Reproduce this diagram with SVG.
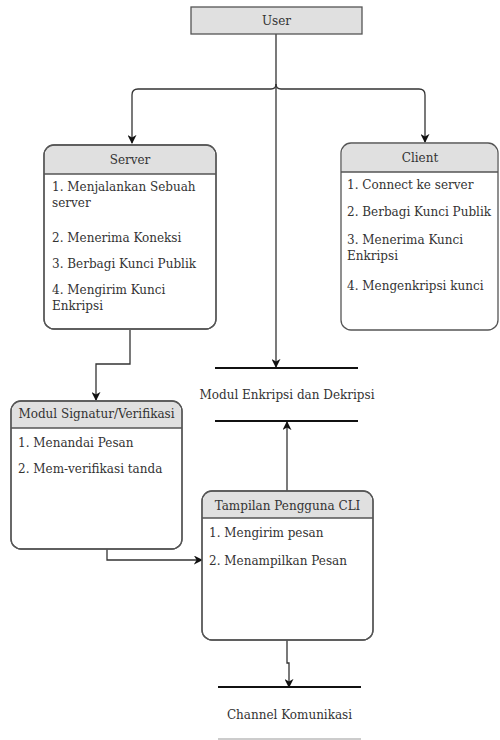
<svg xmlns="http://www.w3.org/2000/svg" width="500" height="740" viewBox="0 0 500 740">
<defs>
<style>
text{font-family:"DejaVu Serif","Liberation Serif",serif;font-size:12px;fill:#333}
.c{text-anchor:middle}
.box{fill:#fff;stroke:#555;stroke-width:1.3}
.hd{fill:#e0e0e0;stroke:none}
.hl{stroke:#555;stroke-width:1.3}
.ln{fill:none;stroke:#333;stroke-width:1.3}
.bar{stroke:#111;stroke-width:2}
</style>
<marker id="ah" viewBox="0 0 10 10" refX="9" refY="5" markerWidth="9" markerHeight="9" markerUnits="userSpaceOnUse" orient="auto">
<path d="M0,0 L10,5 L0,10 L3,5 Z" fill="#111"/>
</marker>
</defs>
<rect width="500" height="740" fill="#fff"/>

<g id="connectors">
<path class="ln" d="M276,34 V84 Q276,89 271,89 H138 Q132,89 132,95 V143" marker-end="url(#ah)"/>
<path class="ln" d="M276,84 Q276,89 281,89 H419 Q425,89 425,95 V142" marker-end="url(#ah)"/>
<path class="ln" d="M276,84 V367" marker-end="url(#ah)"/>
<path class="ln" d="M130,330 V364 H96 V400" marker-end="url(#ah)"/>
<path class="ln" d="M107,549 V560 H202" marker-end="url(#ah)"/>
<path class="ln" d="M287,491 V422" marker-end="url(#ah)"/>
<path class="ln" d="M287,640 V663 H289 V687" marker-end="url(#ah)"/>
</g>

<g id="user">
<rect x="191" y="7" width="171" height="27" fill="#e0e0e0" stroke="#555" stroke-width="1.3"/>
<text class="c" x="276.5" y="25">User</text>
</g>

<g id="server">
<rect class="box" x="44" y="145" width="172" height="184" rx="10"/>
<path class="hd" d="M45,174 V155 Q45,146 54,146 H206 Q215,146 215,155 V174 Z"/>
<line class="hl" x1="44" y1="174" x2="216" y2="174"/>
<rect x="44" y="145" width="172" height="184" rx="10" fill="none" stroke="#555" stroke-width="1.3"/>
<text class="c" x="130" y="164">Server</text>
<text x="52" y="191">1. Menjalankan Sebuah</text>
<text x="52" y="207">server</text>
<text x="52" y="242">2. Menerima Koneksi</text>
<text x="52" y="268">3. Berbagi Kunci Publik</text>
<text x="52" y="294">4. Mengirim Kunci</text>
<text x="52" y="310">Enkripsi</text>
</g>

<g id="client">
<path class="hd" d="M342,172 V153 Q342,144 351,144 H488 Q497,144 497,153 V172 Z"/>
<line class="hl" x1="341" y1="172" x2="498" y2="172"/>
<rect x="341" y="143" width="157" height="187" rx="10" fill="none" stroke="#555" stroke-width="1.3"/>
<text class="c" x="420" y="162">Client</text>
<text x="347" y="189">1. Connect ke server</text>
<text x="347" y="216">2. Berbagi Kunci Publik</text>
<text x="347" y="244">3. Menerima Kunci</text>
<text x="347" y="260">Enkripsi</text>
<text x="347" y="290">4. Mengenkripsi kunci</text>
</g>

<g id="signatur">
<rect class="box" x="11" y="401" width="171" height="148" rx="10"/>
<path class="hd" d="M12,428 V411 Q12,402 21,402 H172 Q181,402 181,411 V428 Z"/>
<line class="hl" x1="11" y1="428" x2="182" y2="428"/>
<rect x="11" y="401" width="171" height="148" rx="10" fill="none" stroke="#555" stroke-width="1.3"/>
<text class="c" x="96.5" y="418">Modul Signatur/Verifikasi</text>
<text x="18" y="447">1. Menandai Pesan</text>
<text x="18" y="473">2. Mem-verifikasi tanda</text>
</g>

<g id="enkripsi">
<line class="bar" x1="215" y1="368" x2="358" y2="368"/>
<line class="bar" x1="215" y1="421" x2="358" y2="421"/>
<text class="c" x="287" y="399">Modul Enkripsi dan Dekripsi</text>
</g>

<g id="cli">
<rect class="box" x="202" y="491" width="171" height="149" rx="10"/>
<path class="hd" d="M203,518 V501 Q203,492 212,492 H363 Q372,492 372,501 V518 Z"/>
<line class="hl" x1="202" y1="518" x2="373" y2="518"/>
<rect x="202" y="491" width="171" height="149" rx="10" fill="none" stroke="#555" stroke-width="1.3"/>
<text class="c" x="287.5" y="510">Tampilan Pengguna CLI</text>
<text x="209" y="537">1. Mengirim pesan</text>
<text x="209" y="565">2. Menampilkan Pesan</text>
</g>

<g id="channel">
<line class="bar" x1="218" y1="687" x2="361" y2="687"/>
<line x1="218" y1="739" x2="361" y2="739" stroke="#bbb" stroke-width="1.5"/>
<text class="c" x="289.5" y="719">Channel Komunikasi</text>
</g>
</svg>
